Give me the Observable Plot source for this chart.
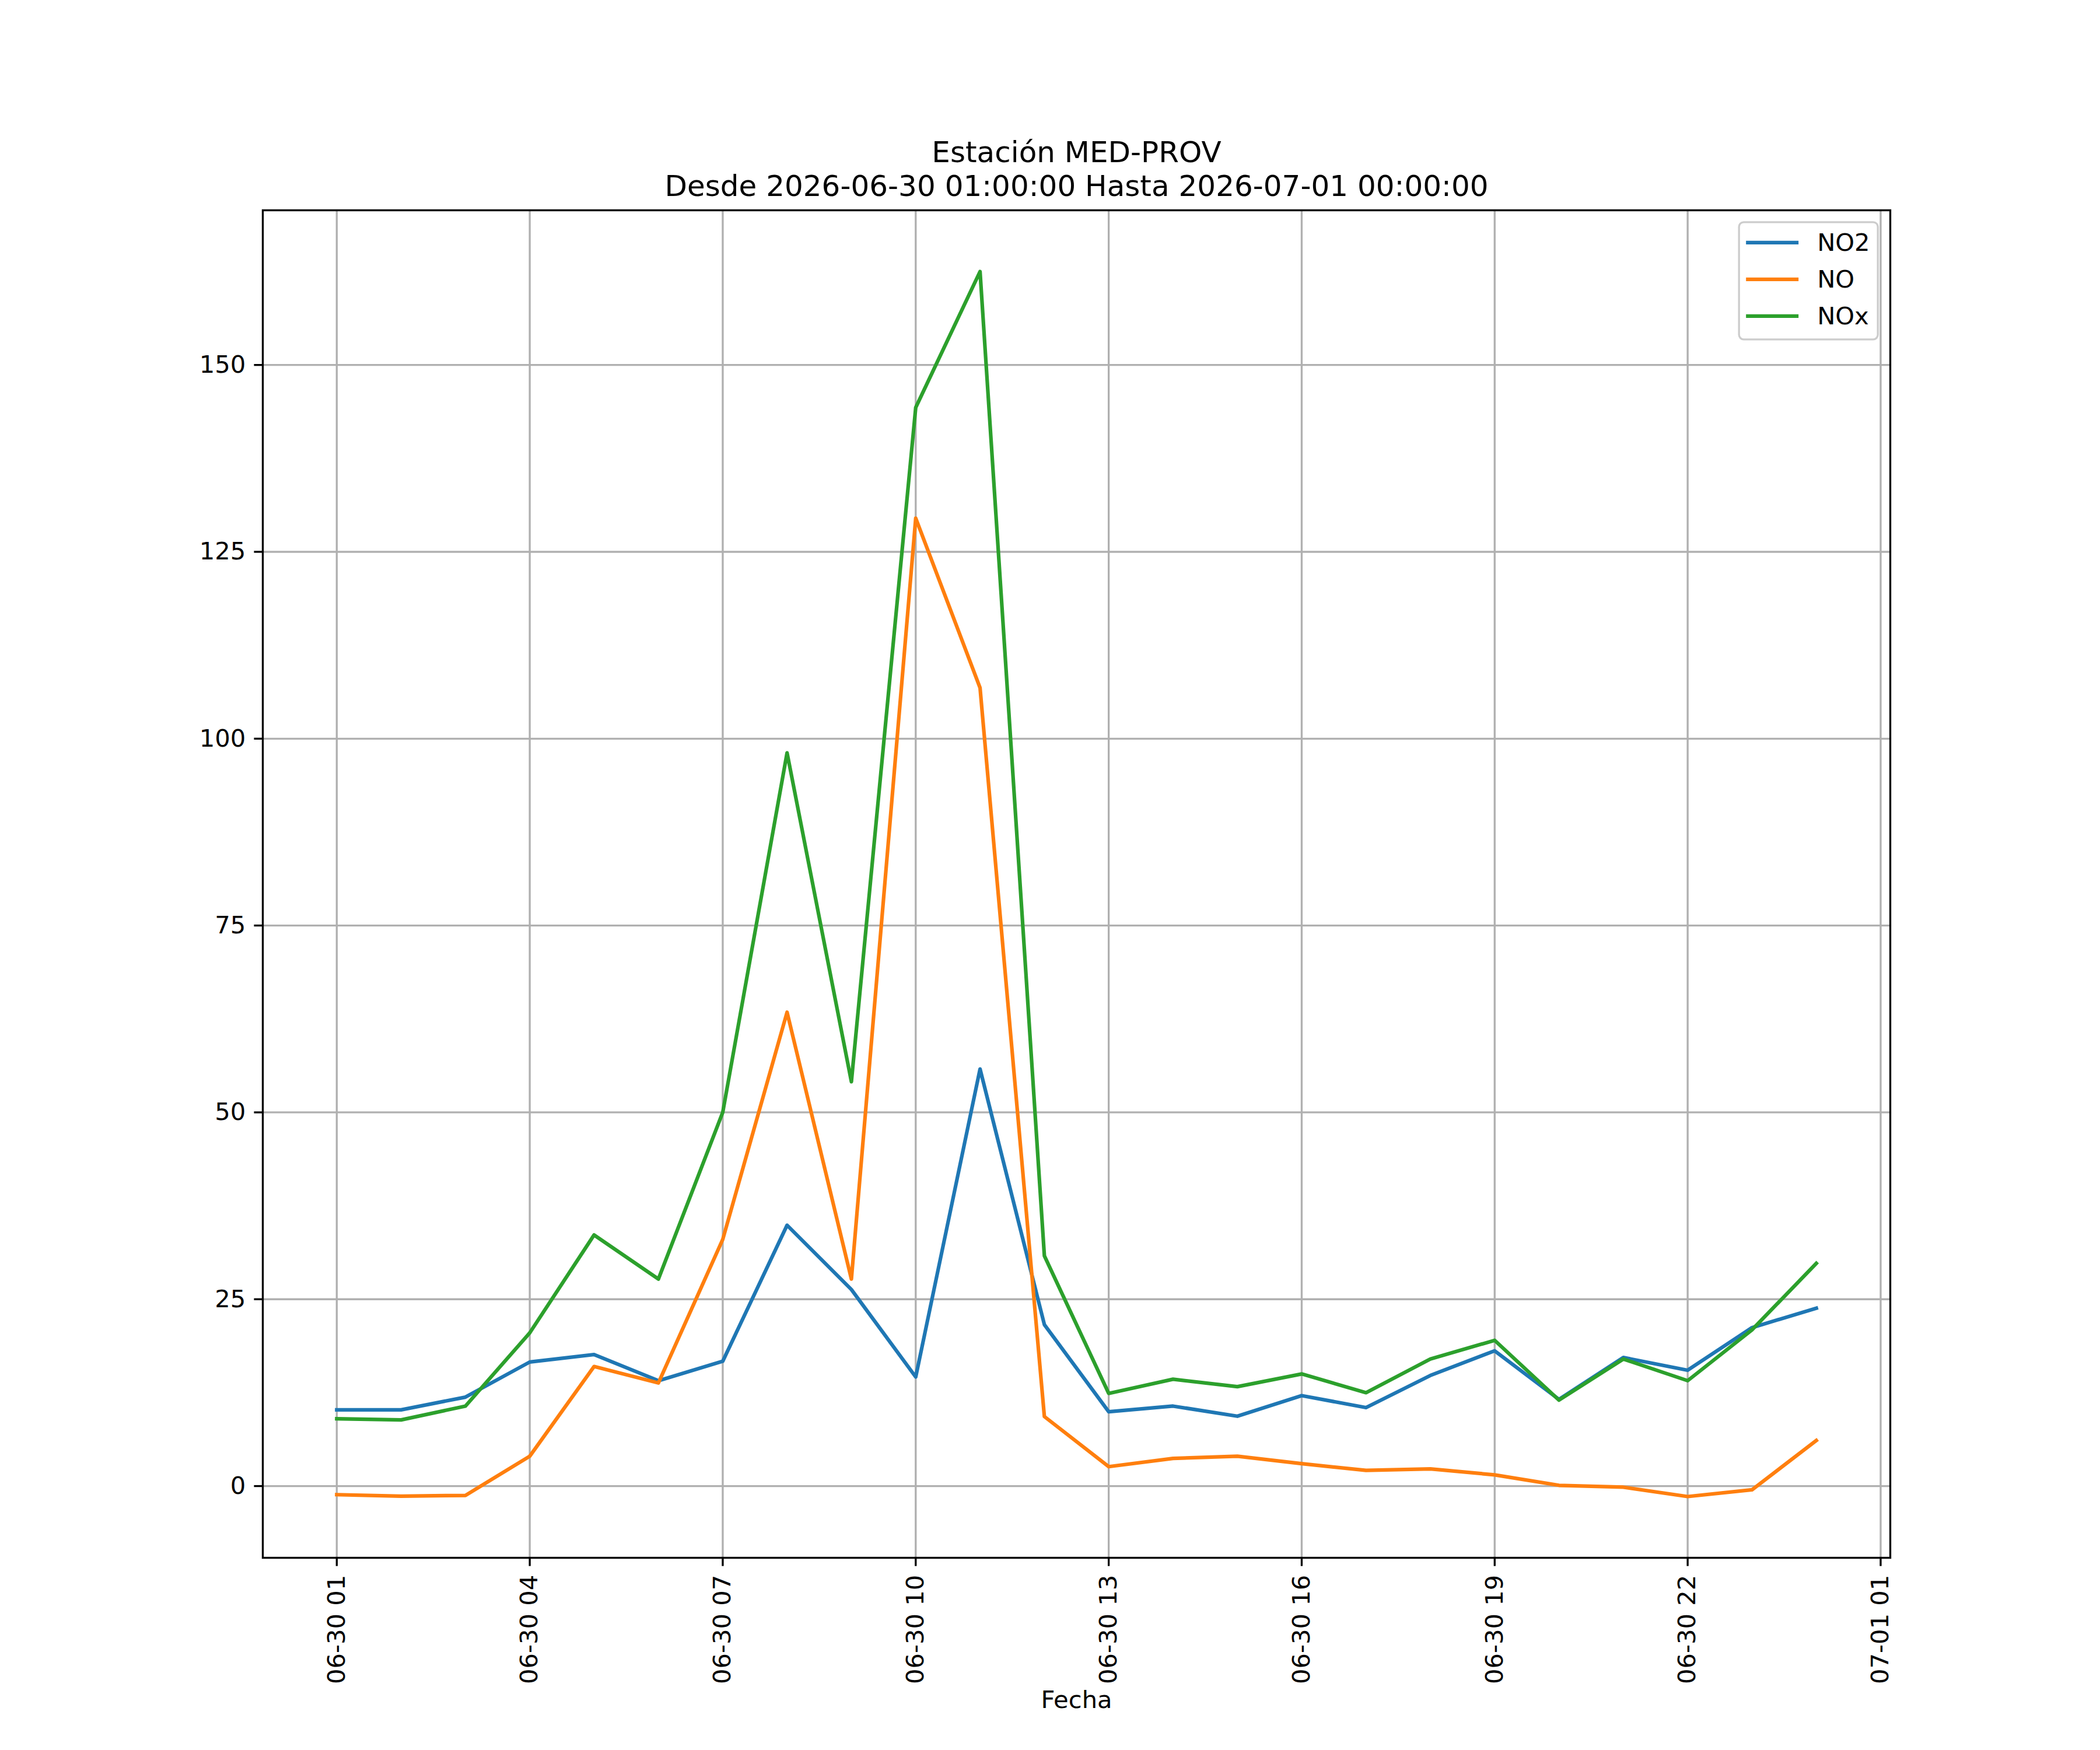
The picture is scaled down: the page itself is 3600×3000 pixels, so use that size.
<!DOCTYPE html>
<html>
<head>
<meta charset="utf-8">
<script src="https://cdn.jsdelivr.net/npm/d3@7"></script>
<script src="https://cdn.jsdelivr.net/npm/@observablehq/plot@0.6"></script>
<style>
  html, body { margin: 0; padding: 0; background: white; }
  #chart { width: 3600px; height: 3000px; }
</style>
</head>
<body>
<div id="chart"></div>
<script>
// ---- data ----
const times = [
  "2026-06-30T01:00Z","2026-06-30T02:00Z","2026-06-30T03:00Z","2026-06-30T04:00Z",
  "2026-06-30T05:00Z","2026-06-30T06:00Z","2026-06-30T07:00Z","2026-06-30T08:00Z",
  "2026-06-30T09:00Z","2026-06-30T10:00Z","2026-06-30T11:00Z","2026-06-30T12:00Z",
  "2026-06-30T13:00Z","2026-06-30T14:00Z","2026-06-30T15:00Z","2026-06-30T16:00Z",
  "2026-06-30T17:00Z","2026-06-30T18:00Z","2026-06-30T19:00Z","2026-06-30T20:00Z",
  "2026-06-30T21:00Z","2026-06-30T22:00Z","2026-06-30T23:00Z","2026-07-01T00:00Z"
];
const NO2 = [10.2,10.2,11.9,16.6,17.6,14.1,16.7,34.9,26.3,14.6,55.8,21.6,9.95,10.7,9.35,12.1,10.5,14.8,18.1,11.6,17.2,15.5,21.2,23.8];
const NO  = [-1.15,-1.35,-1.25,4.0,16.0,13.8,33.0,63.4,27.7,129.5,106.8,9.3,2.6,3.7,4.0,3.0,2.1,2.3,1.5,0.1,-0.15,-1.4,-0.5,6.1];
const NOx = [9.0,8.85,10.7,20.5,33.6,27.7,50.0,98.1,54.1,144.3,162.5,30.8,12.4,14.3,13.3,15.0,12.5,17.0,19.5,11.5,17.0,14.1,20.9,29.8];
const seriesNames = ["NO2","NO","NOx"];
const seriesColors = ["#1f77b4","#ff7f0e","#2ca02c"];
const yTicks = [0,25,50,75,100,125,150];
const xTicks = [
  "2026-06-30T01:00Z","2026-06-30T04:00Z","2026-06-30T07:00Z","2026-06-30T10:00Z",
  "2026-06-30T13:00Z","2026-06-30T16:00Z","2026-06-30T19:00Z","2026-06-30T22:00Z",
  "2026-07-01T01:00Z"
];
const titleText = "Estación MED-PROV\nDesde 2026-06-30 01:00:00 Hasta 2026-07-01 00:00:00";
const xLabel = "Fecha";

// ---- build table ----
const seriesValues = [NO2, NO, NOx];
const rows = seriesNames.map((name, s) =>
  times.map((t, i) => ({series: name, date: new Date(t), value: seriesValues[s][i]}))
);

// matplotlib-like 5% margins
const t0 = new Date(times[0]), t1 = new Date(times[times.length - 1]);
const tSpan = t1 - t0;
const xDomain = [new Date(+t0 - 0.05 * tSpan), new Date(+t1 + 0.05 * tSpan)];
const allVals = [...NO2, ...NO, ...NOx];
const vMin = d3.min(allVals), vMax = d3.max(allVals);
const vSpan = vMax - vMin;
const yDomain = [vMin - 0.05 * vSpan, vMax + 0.05 * vSpan];

const FS = 41.67;      // 10pt @300dpi
const LW = 6.25;       // 1.5pt
const THIN = 3.33;     // 0.8pt
const TICK = 14.6;     // 3.5pt

const W = 3600, H = 3000;
const mL = 450, mR = 360, mT = 360, mB = 330;

const plot = Plot.plot({
  width: W,
  height: H,
  marginLeft: mL,
  marginRight: mR,
  marginTop: mT,
  marginBottom: mB,
  style: {fontFamily: "DejaVu Sans", fontSize: FS + "px", background: "white", color: "black"},
  x: {type: "utc", domain: xDomain},
  y: {domain: yDomain},
  marks: [
    Plot.gridX(xTicks.map(d => new Date(d)), {stroke: "#b0b0b0", strokeOpacity: 1, strokeWidth: THIN}),
    Plot.gridY(yTicks, {stroke: "#b0b0b0", strokeOpacity: 1, strokeWidth: THIN}),
    ...rows.map((r, s) => Plot.line(r, {
      x: "date", y: "value", stroke: seriesColors[s], strokeWidth: LW,
      strokeLinejoin: "round", strokeLinecap: "square"
    })),
    Plot.frame({stroke: "black", strokeWidth: THIN}),
    Plot.axisY(yTicks, {
      anchor: "left", tickSize: TICK, tickPadding: TICK, fontSize: FS,
      strokeWidth: THIN, label: null, tickFormat: d => String(d)
    }),
    Plot.axisX(xTicks.map(d => new Date(d)), {
      anchor: "bottom", tickSize: TICK, tickPadding: TICK, fontSize: FS,
      strokeWidth: THIN, label: null, tickRotate: -90,
      tickFormat: d3.utcFormat("%m-%d %H")
    }),
    Plot.text([xLabel], {
      frameAnchor: "bottom", lineAnchor: "top", dy: 228, fontSize: FS, text: d => d
    }),
    Plot.text([titleText], {
      frameAnchor: "top", lineAnchor: "bottom", dy: -25, fontSize: 50, lineHeight: 1.15, text: d => d
    })
  ]
});

document.getElementById("chart").appendChild(plot);

// ---- legend (upper right, matplotlib style) ----
const svg = d3.select(plot);
const frameRight = W - mR, frameTop = mT;
const pad = 0.5 * FS;
const boxW = 238, boxH = 201;
const bx = frameRight - pad - boxW, by = frameTop + pad;
const lg = svg.append("g")
  .attr("font-family", "DejaVu Sans")
  .attr("font-size", FS)
  .attr("text-anchor", "start");
lg.append("rect")
  .attr("x", bx).attr("y", by).attr("width", boxW).attr("height", boxH)
  .attr("rx", 8).attr("ry", 8)
  .attr("fill", "white").attr("fill-opacity", 0.8)
  .attr("stroke", "#cccccc").attr("stroke-width", THIN);
seriesNames.forEach((name, i) => {
  const cy = by + 35 + i * 63;
  lg.append("line")
    .attr("x1", bx + 12).attr("x2", bx + 102)
    .attr("y1", cy).attr("y2", cy)
    .attr("stroke", seriesColors[i]).attr("stroke-width", LW);
  lg.append("text")
    .attr("x", bx + 134).attr("y", cy)
    .attr("dy", "0.35em")
    .attr("text-anchor", "start")
    .attr("fill", "black")
    .text(name);
});
</script>
</body>
</html>
